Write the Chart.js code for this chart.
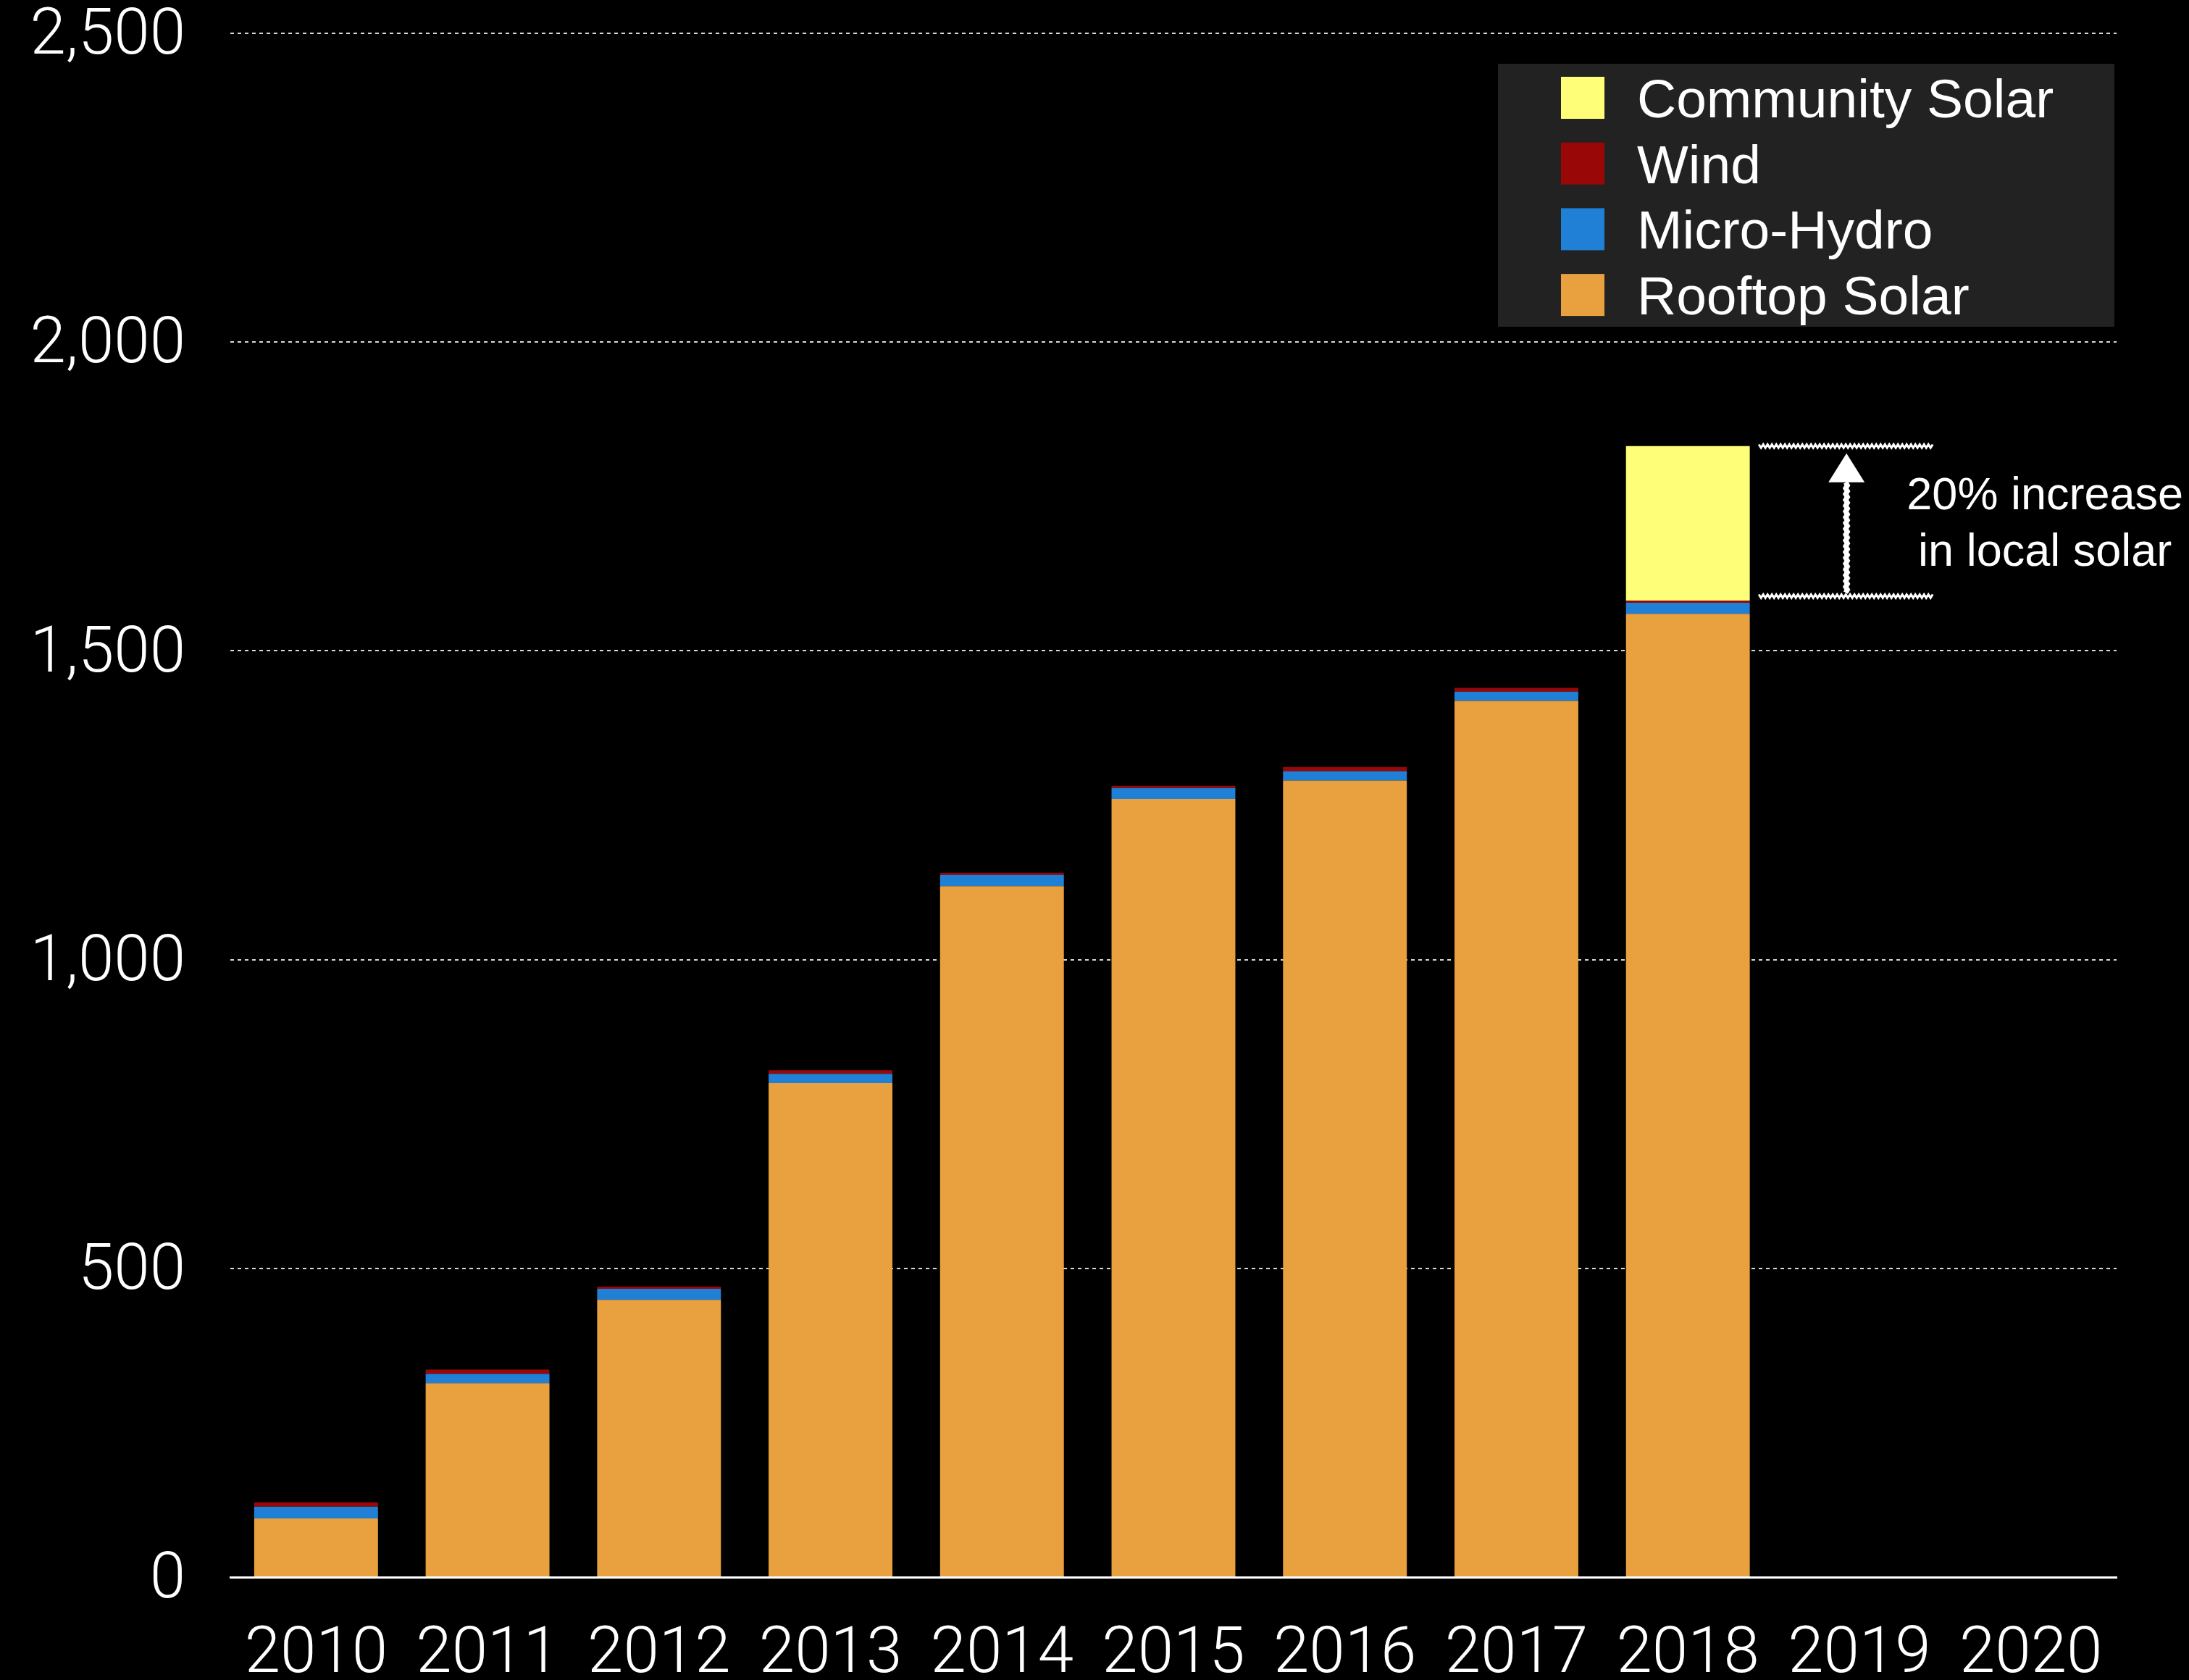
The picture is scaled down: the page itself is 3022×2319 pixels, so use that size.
<!DOCTYPE html>
<html>
<head>
<meta charset="utf-8">
<script src="https://cdn.jsdelivr.net/npm/chart.js@4.4.1/dist/chart.umd.min.js"></script>
<style>
html,body{margin:0;padding:0;background:#000;overflow:hidden;}
#wrap{width:3022px;height:2319px;position:relative;background:#000;}
canvas{display:block;}
</style>
</head>
<body>
<div id="wrap"><canvas id="c" width="3022" height="2319"></canvas></div>
<script>
// ---- data ----
const years = ['2010','2011','2012','2013','2014','2015','2016','2017','2018','2019','2020'];
const rooftopSolar   = [95, 314, 449, 800, 1119, 1260, 1290, 1419, 1560, null, null];
const microHydro     = [19, 15, 18, 15, 18, 18, 15, 15, 18, null, null];
const wind           = [7, 7, 3.5, 6, 3.5, 3.5, 7, 6, 3.5, null, null];
const communitySolar = [null, null, null, null, null, null, null, null, 250, null, null];
const seriesNames  = ['Rooftop Solar', 'Micro-Hydro', 'Wind', 'Community Solar'];
const seriesColors = ['#E8A13E', '#2080D6', '#990707', '#FFFE78'];
const yMin = 0, yMax = 2500, yStep = 500;
const annotationText = ['20% increase', 'in local solar'];
const annotatedYear = '2018';

// ---- plugins ----
const bgPlugin = {
  id: 'bg',
  beforeDraw(chart) {
    const ctx = chart.ctx;
    ctx.save();
    ctx.fillStyle = '#000';
    ctx.fillRect(0, 0, chart.width, chart.height);
    ctx.restore();
  }
};

const legendPlugin = {
  id: 'boxLegend',
  afterDraw(chart) {
    const ctx = chart.ctx;
    const a = chart.chartArea;
    const boxR = a.right - 3, boxL = boxR - 851, boxT = a.top + 42, boxH = 363;
    ctx.save();
    ctx.fillStyle = '#222222';
    ctx.fillRect(boxL, boxT, boxR - boxL, boxH);
    const ds = chart.data.datasets.slice().reverse();
    ctx.font = '400 75px "Liberation Sans", Arial, sans-serif';
    ctx.textBaseline = 'alphabetic';
    ctx.textAlign = 'left';
    ds.forEach((d, i) => {
      const top = boxT + 18 + i * 90.7;
      ctx.fillStyle = d.backgroundColor;
      ctx.fillRect(boxL + 87, top, 60, 58);
      ctx.fillStyle = '#fff';
      ctx.fillText(d.label, boxL + 192, top + 56);
    });
    ctx.restore();
  }
};

function chalkH(ctx, x1, x2, y) {
  ctx.beginPath();
  let k = 0;
  for (let x = x1; x <= x2; x += 3, k++) {
    const dy = (k % 2 === 0 ? -2.4 : 2.4);
    if (k === 0) ctx.moveTo(x, y + dy); else ctx.lineTo(x, y + dy);
  }
  ctx.lineWidth = 3;
  ctx.strokeStyle = '#fff';
  ctx.stroke();
}

const annotationPlugin = {
  id: 'increaseNote',
  afterDatasetsDraw(chart) {
    const ctx = chart.ctx;
    const xs = chart.scales.x, ys = chart.scales.y;
    const idx = years.indexOf(annotatedYear);
    const cx = xs.getPixelForValue(idx);
    const base = rooftopSolar[idx] + microHydro[idx] + wind[idx];
    const total = base + communitySolar[idx];
    const yTop = ys.getPixelForValue(total);
    const yBot = ys.getPixelForValue(base) - 6;
    const x1 = cx + 98, x2 = cx + 340;
    ctx.save();
    chalkH(ctx, x1, x2, yTop);
    chalkH(ctx, x1, x2, yBot);
    // arrow
    const ax = cx + 219;
    const tipY = yTop + 10, headBase = yTop + 50;
    ctx.beginPath();
    let k = 0;
    for (let y = yBot - 5; y >= headBase; y -= 4, k++) {
      const dx = (k % 2 === 0 ? -1.2 : 1.2);
      if (k === 0) ctx.moveTo(ax + dx, y); else ctx.lineTo(ax + dx, y);
    }
    ctx.lineWidth = 7;
    ctx.strokeStyle = '#fff';
    ctx.stroke();
    ctx.beginPath();
    ctx.moveTo(ax, tipY);
    ctx.lineTo(ax + 25, headBase);
    ctx.lineTo(ax - 25, headBase);
    ctx.closePath();
    ctx.fillStyle = '#fff';
    ctx.fill();
    // text
    const tx = cx + 493;
    const mid = (yTop + yBot) / 2;
    ctx.font = '400 63px "Liberation Sans", Arial, sans-serif';
    ctx.textAlign = 'center';
    ctx.textBaseline = 'alphabetic';
    ctx.fillStyle = '#fff';
    ctx.fillText(annotationText[0], tx, mid - 16);
    ctx.fillText(annotationText[1], tx, mid + 62);
    ctx.restore();
  }
};

// ---- chart ----
const seriesData = [rooftopSolar, microHydro, wind, communitySolar];
const tickFont = { family: 'Roboto, "Liberation Sans", sans-serif', weight: 300, size: 89 };

function build() {
  new Chart(document.getElementById('c'), {
    type: 'bar',
    data: {
      labels: years,
      datasets: seriesNames.map((n, i) => ({
        label: n,
        data: seriesData[i],
        backgroundColor: seriesColors[i],
        borderWidth: 0,
        barPercentage: 0.722,
        categoryPercentage: 1.0
      }))
    },
    options: {
      responsive: false,
      animation: false,
      devicePixelRatio: 1,
      layout: { padding: { top: 0, right: 100, bottom: 0, left: 0 } },
      plugins: { legend: { display: false }, tooltip: { enabled: false } },
      scales: {
        x: {
          stacked: true,
          grid: { display: false, drawTicks: false },
          border: { display: true, color: '#ffffff', width: 3 },
          ticks: {
            color: '#ffffff',
            font: Object.assign({ lineHeight: 1.2 }, tickFont),
            padding: 55,
            maxRotation: 0,
            autoSkip: false
          },
          afterFit(s) { s.height = 142; }
        },
        y: {
          stacked: true,
          min: yMin,
          max: yMax,
          grid: { color: 'rgba(255,255,255,0.85)', lineWidth: 2, drawTicks: false },
          border: { display: false, dash: [5, 5] },
          ticks: {
            stepSize: yStep,
            color: '#ffffff',
            font: Object.assign({ lineHeight: 1 }, tickFont),
            padding: 62,
            labelOffset: 6,
            callback: v => Number(v).toLocaleString('en-US')
          },
          afterFit(s) { s.width = 318; s.paddingTop = 46; s.paddingBottom = 0; }
        }
      }
    },
    plugins: [bgPlugin, annotationPlugin, legendPlugin]
  });
}

if (document.fonts && document.fonts.load) {
  Promise.all([
    document.fonts.load('300 89px Roboto'),
    document.fonts.load('400 75px "Liberation Sans"')
  ]).then(build, build);
} else {
  build();
}
</script>
</body>
</html>
